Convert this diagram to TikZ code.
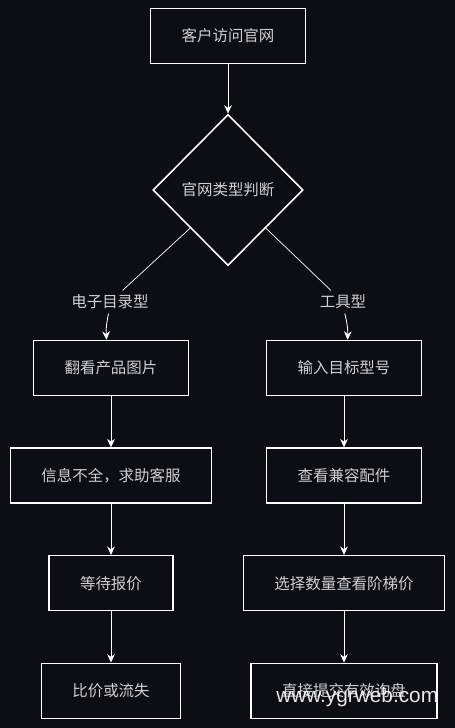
\documentclass[tikz,border=0pt]{standalone}
\usepackage{fontspec}
\newfontfamily\cjk{Noto Sans CJK SC}
\setsansfont{Liberation Sans}
\usetikzlibrary{shapes.geometric, positioning, arrows, arrows.meta}
\definecolor{bgdark}{HTML}{0B0E15}
\definecolor{inkgray}{HTML}{D0D0D0}
\tikzset{
    node distance=2.69cm, % centre to centre inside one column
    every node/.style={ % all texts
        font=\cjk\fontsize{11}{13}\selectfont,
        text=inkgray
    },
    stepbox/.style={ % one step of the flow
        draw=white, line width=1.1pt, fill=bgdark,
        inner xsep=0.775cm, minimum height=1.375cm
    },
    choice/.style={ % the decision
        diamond, draw=white, line width=1.1pt, fill=bgdark,
        minimum width=3.75cm, minimum height=3.78cm, inner sep=0pt
    },
    branch/.style={fill=bgdark, inner sep=3pt},
    every edge/.style={ % connectors
        draw=white,
        ->,>={Stealth[length=6pt,width=5.5pt]},
        semithick
    },
}

\begin{document}
\begin{tikzpicture}
            \path[use as bounding box, fill=bgdark] (0,0) rectangle (11.375,-18.2);

            \node[stepbox]                  (visit)    at (5.7,-0.9)    {客户访问官网};
            \node[choice, below of=visit, node distance=3.85cm] (judge) {官网类型判断};
            \node[branch]                   (catalog)  at (2.75,-7.55)  {电子目录型};
            \node[branch]                   (tool)     at (8.575,-7.55) {工具型};

            % left column
            \node[stepbox]                  (browse)   at (2.775,-9.2)  {翻看产品图片};
            \node[stepbox, below of=browse] (askhelp)  {信息不全，求助客服};
            \node[stepbox, below of=askhelp](waitquote){等待报价};
            \node[stepbox, below of=waitquote](lost)   {比价或流失};

            % right column
            \node[stepbox]                  (model)    at (8.6,-9.2)    {输入目标型号};
            \node[stepbox, below of=model]  (parts)    {查看兼容配件};
            \node[stepbox, below of=parts]  (tiers)    {选择数量查看阶梯价};
            \node[stepbox, below of=tiers]  (inquiry)  {直接提交有效询盘};

            \draw   (visit)     edge                (judge)
                    (catalog)   edge[bend right=8]  (browse)
                    (tool)      edge[bend left=8]   (model)
                    (browse)    edge                (askhelp)
                    (askhelp)   edge                (waitquote)
                    (waitquote) edge                (lost)
                    (model)     edge                (parts)
                    (parts)     edge                (tiers)
                    (tiers)     edge                (inquiry)
            ;
            \draw[white, line width=0.5pt]
                    (judge.south west) -- (catalog)
                    (judge.south east) -- (tool)
            ;

            \node[font=\sffamily\fontsize{14.8}{15}\selectfont, text=white, opacity=0.9]
                    (mark) at (8.93,-17.42) {www.ygrweb.com};
        \end{tikzpicture}
\end{document}
